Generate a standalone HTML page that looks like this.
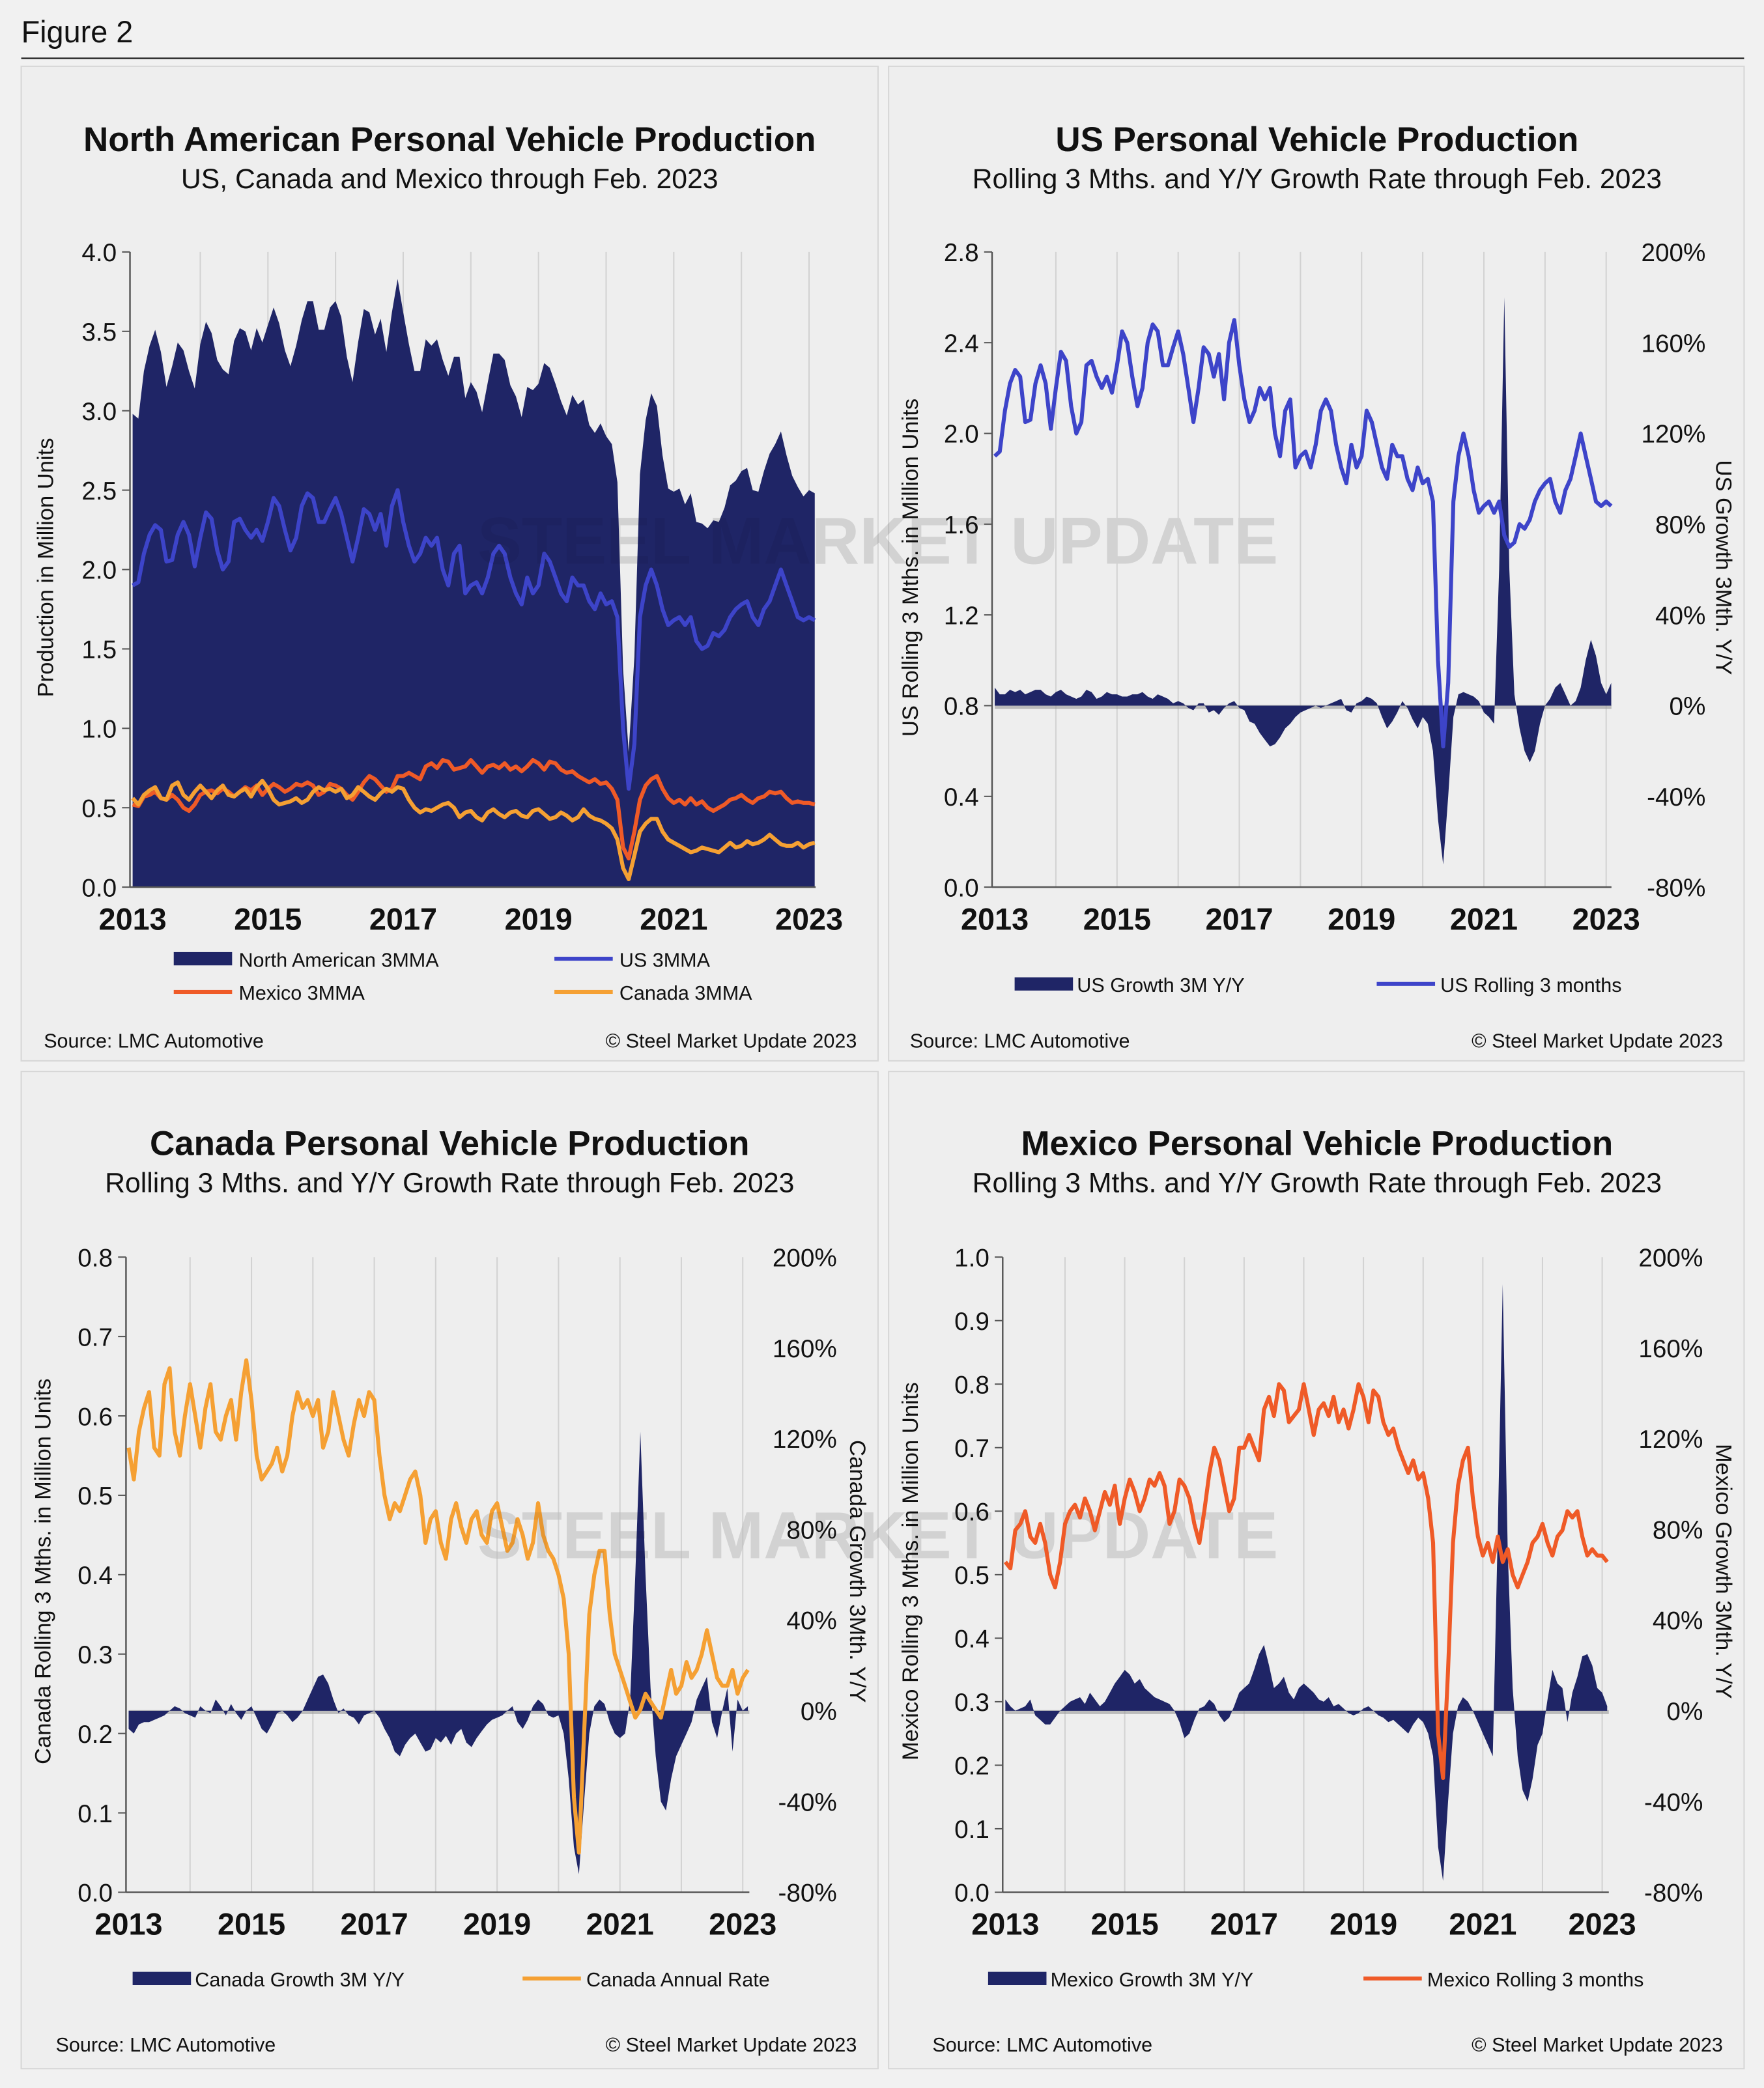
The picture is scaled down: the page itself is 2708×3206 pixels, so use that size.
<!DOCTYPE html>
<html><head><meta charset="utf-8"><style>
html,body{margin:0;padding:0;background:#f1f1f1;}
svg{display:block;font-family:"Liberation Sans",Arial,sans-serif;}
</style></head><body>
<svg id="fig" width="2708" height="3206" viewBox="0 0 1330 1574.6" preserveAspectRatio="none" xmlns="http://www.w3.org/2000/svg">
<rect x="0" y="0" width="1330" height="1575" fill="#f1f1f1"/>
<text x="16" y="32" font-size="23" fill="#111">Figure 2</text>
<line x1="16" y1="44" x2="1315" y2="44" stroke="#222" stroke-width="1.2"/>
<rect x="16" y="50" width="646" height="750" fill="#eeeeee" stroke="#d6d6d6"/>
<rect x="670" y="50" width="645" height="750" fill="#eeeeee" stroke="#d6d6d6"/>
<rect x="16" y="808" width="646" height="752" fill="#eeeeee" stroke="#d6d6d6"/>
<rect x="670" y="808" width="645" height="752" fill="#eeeeee" stroke="#d6d6d6"/>
<g id="layer"></g>
</svg>
<script>
// ---- data (monthly, Jan 2013 .. Feb 2023) ----
const years = [2013,2015,2017,2019,2021,2023];
const usRolling = [1.90,1.92,2.10,2.22,2.28,2.25,2.05,2.06,2.22,2.30,2.22,2.02,
2.20,2.36,2.32,2.12,2.00,2.05,2.30,2.32,2.25,2.20,2.25,2.18,
2.30,2.45,2.40,2.25,2.12,2.20,2.40,2.48,2.45,2.30,2.30,2.38,
2.45,2.35,2.20,2.05,2.20,2.38,2.35,2.25,2.35,2.15,2.40,2.50,
2.30,2.15,2.05,2.10,2.20,2.15,2.20,2.00,1.90,2.10,2.15,1.85,
1.90,1.92,1.85,1.95,2.10,2.15,2.10,1.95,1.85,1.78,1.95,1.85,
1.90,2.10,2.05,1.95,1.85,1.80,1.95,1.90,1.90,1.80,1.75,1.85,
1.78,1.80,1.70,1.00,0.62,0.90,1.70,1.90,2.00,1.90,1.75,1.65,
1.68,1.70,1.65,1.70,1.55,1.50,1.52,1.60,1.58,1.62,1.70,1.75,
1.78,1.80,1.70,1.65,1.75,1.80,1.90,2.00,1.90,1.80,1.70,1.68,
1.70,1.68];
const mexRolling = [0.52,0.51,0.57,0.58,0.60,0.56,0.55,0.58,0.55,0.50,0.48,0.52,
0.58,0.60,0.61,0.59,0.62,0.60,0.57,0.60,0.63,0.61,0.64,0.58,
0.62,0.65,0.63,0.60,0.62,0.65,0.64,0.66,0.64,0.58,0.60,0.65,
0.64,0.62,0.58,0.55,0.60,0.66,0.70,0.68,0.64,0.60,0.62,0.70,
0.70,0.72,0.70,0.68,0.76,0.78,0.75,0.80,0.79,0.74,0.75,0.76,
0.80,0.76,0.72,0.76,0.77,0.75,0.78,0.74,0.76,0.73,0.76,0.80,
0.78,0.74,0.79,0.78,0.74,0.72,0.73,0.70,0.68,0.66,0.68,0.65,
0.66,0.62,0.55,0.25,0.18,0.35,0.55,0.64,0.68,0.70,0.62,0.56,
0.53,0.55,0.52,0.56,0.52,0.54,0.50,0.48,0.50,0.52,0.55,0.56,
0.58,0.55,0.53,0.56,0.57,0.60,0.59,0.60,0.56,0.53,0.54,0.53,
0.53,0.52];
const canRolling = [0.56,0.52,0.58,0.61,0.63,0.56,0.55,0.64,0.66,0.58,0.55,0.60,
0.64,0.60,0.56,0.61,0.64,0.58,0.57,0.60,0.62,0.57,0.63,0.67,
0.62,0.55,0.52,0.53,0.54,0.56,0.53,0.55,0.60,0.63,0.61,0.62,
0.60,0.62,0.56,0.58,0.63,0.60,0.57,0.55,0.59,0.62,0.60,0.63,
0.62,0.55,0.50,0.47,0.49,0.48,0.50,0.52,0.53,0.50,0.44,0.47,
0.48,0.44,0.42,0.47,0.49,0.46,0.44,0.47,0.48,0.45,0.44,0.48,
0.49,0.46,0.43,0.44,0.47,0.45,0.42,0.44,0.49,0.45,0.43,0.42,
0.40,0.37,0.30,0.12,0.05,0.20,0.35,0.40,0.43,0.43,0.35,0.30,
0.28,0.26,0.24,0.22,0.23,0.25,0.24,0.23,0.22,0.25,0.28,0.25,
0.26,0.29,0.27,0.28,0.30,0.33,0.30,0.27,0.26,0.26,0.28,0.25,
0.27,0.28];
const usGrowth = [8,5,5,7,6,7,5,6,7,7,5,4,
6,7,5,4,3,4,7,6,3,4,6,5,
5,4,4,5,5,6,4,3,5,4,3,1,
2,1,-1,-2,1,1,-3,-2,-4,-1,1,2,
-1,-2,-7,-8,-12,-15,-18,-17,-14,-10,-8,-5,
-3,-2,-1,0,-1,0,1,2,3,-2,-3,1,
2,4,3,1,-5,-10,-7,-3,2,-1,-6,-10,
-5,-8,-20,-50,-70,-40,-5,5,6,5,4,2,
-3,-5,-8,60,180,60,5,-10,-20,-25,-20,-8,
0,3,8,10,5,0,2,8,20,29,22,10,
5,10];
const canGrowth = [-8,-10,-6,-5,-5,-4,-3,-2,0,2,1,-1,
-2,-3,2,0,-1,5,2,-2,3,-1,-4,0,
2,-3,-8,-10,-6,-1,0,-2,-5,-3,0,5,
10,15,16,12,5,-1,1,-2,-3,-6,-2,-1,
0,-3,-8,-12,-18,-20,-15,-12,-10,-14,-18,-17,
-12,-14,-11,-15,-10,-8,-14,-16,-12,-9,-6,-4,
-3,-2,0,2,-5,-8,-4,2,5,3,-2,-3,
-2,-10,-30,-60,-72,-40,-10,2,5,3,-5,-10,
-12,-10,5,60,123,60,10,-20,-40,-44,-30,-20,
-15,-10,-5,5,10,15,-5,-12,0,10,-18,5,
0,2];
const mexGrowth = [5,2,0,1,2,5,-2,-4,-6,-6,-3,0,
2,4,5,6,3,8,5,2,4,8,12,15,
18,16,12,14,10,8,6,5,4,3,0,-5,
-12,-10,-4,1,2,5,3,-2,-5,-3,2,8,
10,12,18,25,29,20,10,12,15,8,5,10,
12,10,8,5,4,6,2,3,1,-1,-2,-1,
1,2,0,-2,-3,-5,-4,-6,-8,-10,-6,-3,
-5,-10,-20,-60,-75,-40,-10,2,6,4,0,-5,
-10,-15,-20,80,188,70,10,-20,-35,-40,-30,-15,
-10,5,18,12,10,-5,8,15,24,25,20,10,
8,2];
const naTicks = [0,0.5,1.0,1.5,2.0,2.5,3.0,3.5,4.0];
const usTicks = [0,0.4,0.8,1.2,1.6,2.0,2.4,2.8];
const canTicks = [0,0.1,0.2,0.3,0.4,0.5,0.6,0.7,0.8];
const mexTicks = [0,0.1,0.2,0.3,0.4,0.5,0.6,0.7,0.8,0.9,1.0];
const pctTicks = [-80,-40,0,40,80,120,160,200];

const NS="http://www.w3.org/2000/svg";
const layer=document.getElementById('layer');
function mk(tag,attrs,parent,txt){const e=document.createElementNS(NS,tag);for(const k in attrs)e.setAttribute(k,attrs[k]);if(txt!==undefined)e.textContent=txt;(parent||layer).appendChild(e);return e;}
const NAVY="#1f2566", BLUE="#3d44c9", MEX="#ef5a27", CAN="#f5a033";

function chart(cfg){
  const g=mk('g',{});
  
  
  const X=t=>cfg.x0+(t/12)*cfg.step;            // month index -> x
  const Y=v=>cfg.yb-(v/cfg.lmax)*(cfg.yb-cfg.yt);
  const R=v=>cfg.yb-((v+80)/280)*(cfg.yb-cfg.yt);
  // watermark
  const wm=mk('text',{x:cfg.wx,y:cfg.wy,'font-size':50,'font-weight':'bold',fill:'#000','fill-opacity':0.06},g,'STEEL MARKET UPDATE');
  
  
  // gridlines
  for(let y=2014;y<=2023;y++){const gl=mk('line',{x1:X((y-2013)*12),x2:X((y-2013)*12),y1:cfg.yt,y2:cfg.yb,stroke:'#d2d2d2','stroke-width':1},g);
    
    }
  const n=cfg.lines[0].v.length;
  if(cfg.area){
    const v=cfg.area;let d=`M${X(0)},${Y(0)}`;
    v.forEach((a,i)=>d+=`L${X(i).toFixed(1)},${Y(a).toFixed(1)}`);
    d+=`L${X(n-1)},${Y(0)}Z`;
    const p=mk('path',{d,fill:NAVY},g);
    
    
  }
  if(cfg.growth){
    mk('line',{x1:cfg.x0,x2:cfg.xr,y1:R(0)+1,y2:R(0)+1,stroke:'#9a9a9a','stroke-width':3,'stroke-opacity':0.6},g);
    const v=cfg.growth;let d=`M${X(0)},${R(0)}`;
    v.forEach((a,i)=>d+=`L${X(i).toFixed(1)},${R(a).toFixed(1)}`);
    d+=`L${X(n-1)},${R(0)}Z`;
    const p=mk('path',{d,fill:NAVY},g);
    
    
  }
  cfg.lines.forEach(L=>{
    const pts=L.v.map((a,i)=>`${X(i).toFixed(1)},${Y(a).toFixed(1)}`).join(' ');
    const pl=mk('polyline',{points:pts,fill:'none',stroke:L.c,'stroke-width':3,'stroke-linejoin':'round'},g);
    
    
  });
  // left axis
  mk('line',{x1:cfg.x0-2,x2:cfg.x0-2,y1:cfg.yt,y2:cfg.yb,stroke:'#555','stroke-width':1.2},g);
  mk('line',{x1:cfg.x0-2,x2:cfg.xr,y1:cfg.yb,y2:cfg.yb,stroke:'#555','stroke-width':1.2},g);
  cfg.ticks.forEach(t=>{
    mk('line',{x1:cfg.x0-8,x2:cfg.x0-2,y1:Y(t),y2:Y(t),stroke:'#555'},g);
    const tl=mk('text',{x:cfg.x0-12,y:Y(t)+7,'font-size':19,'text-anchor':'end',fill:'#111'},g,t.toFixed(1));
    
    
  });
  if(cfg.growth){
    pctTicks.forEach(t=>{
      const tl=mk('text',{x:cfg.rx,y:R(t)+7,'font-size':19,'text-anchor':'end',fill:'#111'},g,t+'%');
      
      
    });
  }
  years.forEach(y=>{
    const tl=mk('text',{x:X((y-2013)*12),y:cfg.yb+32,'font-size':23,'font-weight':'bold','text-anchor':'middle',fill:'#111'},g,String(y));
    
    
  });
}

chart({name:'north-american-chart',x0:100,step:51,xr:615,yt:190,yb:669,lmax:4,ticks:naTicks,wx:360,wy:425,
  area:usRolling.map((u,i)=>u+mexRolling[i]+canRolling[i]),
  lines:[{v:usRolling,c:BLUE,name:'us-3mma-line'},{v:mexRolling,c:MEX,name:'mexico-3mma-line'},{v:canRolling,c:CAN,name:'canada-3mma-line'}]});
chart({name:'us-chart',x0:750,step:46.1,xr:1215,yt:190,yb:669,lmax:2.8,ticks:usTicks,rx:1286,wx:360,wy:425,
  growth:usGrowth,lines:[{v:usRolling,c:BLUE,name:'us-rolling-line'}]});
chart({name:'canada-chart',x0:97,step:46.3,xr:565,yt:948,yb:1427,lmax:0.8,ticks:canTicks,rx:631,wx:360,wy:1175,
  growth:canGrowth,lines:[{v:canRolling,c:CAN,name:'canada-annual-rate-line'}]});
chart({name:'mexico-chart',x0:758,step:45,xr:1213,yt:948,yb:1427,lmax:1.0,ticks:mexTicks,rx:1284,wx:360,wy:1175,
  growth:mexGrowth,lines:[{v:mexRolling,c:MEX,name:'mexico-rolling-line'}]});
</script>
<script>
(function(){
const NS="http://www.w3.org/2000/svg";const layer=document.getElementById('layer');
function t(name,x,y,s,str,opt){const e=document.createElementNS(NS,'text');e.setAttribute('x',x);e.setAttribute('y',y);e.setAttribute('font-size',s);e.setAttribute('fill','#111');
 if(opt&&opt.b)e.setAttribute('font-weight','bold');if(opt&&opt.a)e.setAttribute('text-anchor',opt.a);if(opt&&opt.r)e.setAttribute('transform',`rotate(${opt.r} ${x} ${y})`);
 
 
 e.textContent=str;layer.appendChild(e);}
function sw(name,x,y,c,bar){const e=document.createElementNS(NS,'rect');e.setAttribute('x',x);e.setAttribute('y',bar?y-5:y-1.5);e.setAttribute('width',44);e.setAttribute('height',bar?10:3);e.setAttribute('fill',c);
 
 
 layer.appendChild(e);}
const NAVY="#1f2566", BLUE="#3d44c9", MEX="#ef5a27", CAN="#f5a033";
// titles
t('chart-title',339,114,26,'North American Personal Vehicle Production',{b:1,a:'middle'});
t('chart-subtitle',339,142,21,'US, Canada and Mexico through Feb. 2023',{a:'middle'});
t('chart-title',993,114,26,'US Personal Vehicle Production',{b:1,a:'middle'});
t('chart-subtitle',993,142,21,'Rolling 3 Mths. and Y/Y Growth Rate through Feb. 2023',{a:'middle'});
t('chart-title',339,871,26,'Canada Personal Vehicle Production',{b:1,a:'middle'});
t('chart-subtitle',339,899,21,'Rolling 3 Mths. and Y/Y Growth Rate through Feb. 2023',{a:'middle'});
t('chart-title',993,871,26,'Mexico Personal Vehicle Production',{b:1,a:'middle'});
t('chart-subtitle',993,899,21,'Rolling 3 Mths. and Y/Y Growth Rate through Feb. 2023',{a:'middle'});
// axis titles
t('y-axis-title',40,428,17,'Production in Million Units',{a:'middle',r:-90});
t('y-axis-title',692,428,17,'US Rolling 3 Mths. in Million Units',{a:'middle',r:-90});
t('y2-axis-title',1294,428,17,'US Growth 3Mth. Y/Y',{a:'middle',r:90});
t('y-axis-title',38,1185,17,'Canada Rolling 3 Mths. in Million Units',{a:'middle',r:-90});
t('y2-axis-title',641,1185,17,'Canada Growth 3Mth. Y/Y',{a:'middle',r:90});
t('y-axis-title',692,1185,17,'Mexico Rolling 3 Mths. in Million Units',{a:'middle',r:-90});
t('y2-axis-title',1294,1185,17,'Mexico Growth 3Mth. Y/Y',{a:'middle',r:90});
// legends
sw('legend-swatch-na',131,723,NAVY,1);t('legend-entry',180,729,15,'North American 3MMA');
sw('legend-swatch-us',418,723,BLUE);t('legend-entry',467,729,15,'US 3MMA');
sw('legend-swatch-mexico',131,748,MEX);t('legend-entry',180,754,15,'Mexico 3MMA');
sw('legend-swatch-canada',418,748,CAN);t('legend-entry',467,754,15,'Canada 3MMA');
sw('legend-swatch-us-growth',765,742,NAVY,1);t('legend-entry',812,748,15,'US Growth 3M Y/Y');
sw('legend-swatch-us-rolling',1038,742,BLUE);t('legend-entry',1086,748,15,'US Rolling 3 months');
sw('legend-swatch-canada-growth',100,1492,NAVY,1);t('legend-entry',147,1498,15,'Canada Growth 3M Y/Y');
sw('legend-swatch-canada-rate',394,1492,CAN);t('legend-entry',442,1498,15,'Canada Annual Rate');
sw('legend-swatch-mexico-growth',745,1492,NAVY,1);t('legend-entry',792,1498,15,'Mexico Growth 3M Y/Y');
sw('legend-swatch-mexico-rolling',1028,1492,MEX);t('legend-entry',1076,1498,15,'Mexico Rolling 3 months');
// sources
t('source-note',33,790,15,'Source: LMC Automotive');t('copyright-note',646,790,15,'© Steel Market Update 2023',{a:'end'});
t('source-note',686,790,15,'Source: LMC Automotive');t('copyright-note',1299,790,15,'© Steel Market Update 2023',{a:'end'});
t('source-note',42,1547,15,'Source: LMC Automotive');t('copyright-note',646,1547,15,'© Steel Market Update 2023',{a:'end'});
t('source-note',703,1547,15,'Source: LMC Automotive');t('copyright-note',1299,1547,15,'© Steel Market Update 2023',{a:'end'});
})();
</script>
</body></html>
